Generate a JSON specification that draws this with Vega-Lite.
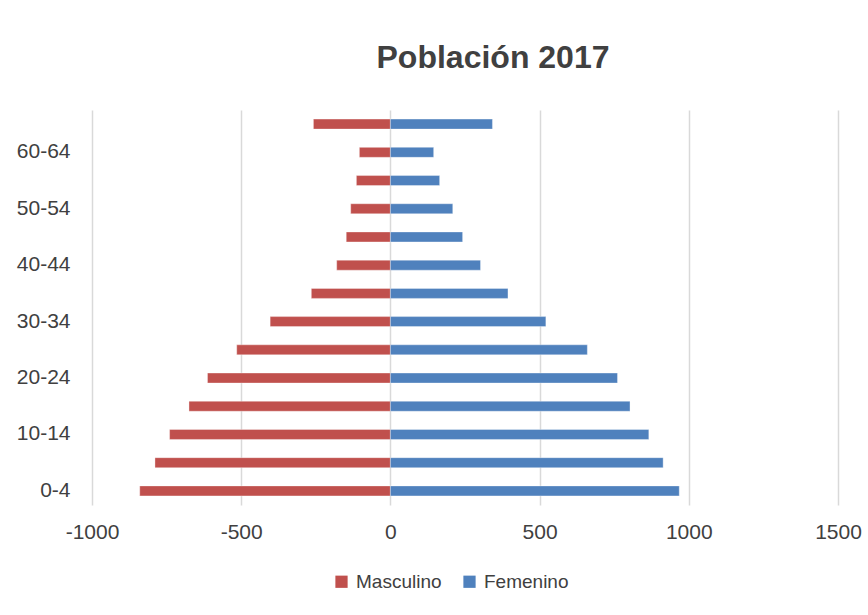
{
  "$schema": "https://vega.github.io/schema/vega-lite/v6.json",
  "width": 746,
  "height": 395,
  "autosize": "none",
  "padding": {"left": 92, "top": 110, "right": 30, "bottom": 110},
  "background": "white",
  "title": {
    "text": "Población 2017",
    "font": "Liberation Sans",
    "fontSize": 32,
    "fontWeight": "bold",
    "color": "#404040",
    "anchor": "middle",
    "dx": 28,
    "offset": 35
  },
  "data": {
    "values": [
      {"edad": "0-4", "sexo": "Masculino", "valor": -840},
      {"edad": "5-9", "sexo": "Masculino", "valor": -789},
      {"edad": "10-14", "sexo": "Masculino", "valor": -740},
      {"edad": "15-19", "sexo": "Masculino", "valor": -675},
      {"edad": "20-24", "sexo": "Masculino", "valor": -613},
      {"edad": "25-29", "sexo": "Masculino", "valor": -515},
      {"edad": "30-34", "sexo": "Masculino", "valor": -403},
      {"edad": "35-39", "sexo": "Masculino", "valor": -265},
      {"edad": "40-44", "sexo": "Masculino", "valor": -180},
      {"edad": "45-49", "sexo": "Masculino", "valor": -148},
      {"edad": "50-54", "sexo": "Masculino", "valor": -133},
      {"edad": "55-59", "sexo": "Masculino", "valor": -114},
      {"edad": "60-64", "sexo": "Masculino", "valor": -104},
      {"edad": "65+", "sexo": "Masculino", "valor": -258},
      {"edad": "0-4", "sexo": "Femenino", "valor": 968},
      {"edad": "5-9", "sexo": "Femenino", "valor": 914},
      {"edad": "10-14", "sexo": "Femenino", "valor": 866},
      {"edad": "15-19", "sexo": "Femenino", "valor": 803},
      {"edad": "20-24", "sexo": "Femenino", "valor": 761},
      {"edad": "25-29", "sexo": "Femenino", "valor": 660},
      {"edad": "30-34", "sexo": "Femenino", "valor": 521},
      {"edad": "35-39", "sexo": "Femenino", "valor": 394},
      {"edad": "40-44", "sexo": "Femenino", "valor": 302},
      {"edad": "45-49", "sexo": "Femenino", "valor": 242},
      {"edad": "50-54", "sexo": "Femenino", "valor": 209},
      {"edad": "55-59", "sexo": "Femenino", "valor": 165},
      {"edad": "60-64", "sexo": "Femenino", "valor": 145},
      {"edad": "65+", "sexo": "Femenino", "valor": 342}
    ]
  },
  "mark": {"type": "bar", "size": 10, "stroke": "white", "strokeOpacity": 0.35, "strokeWidth": 1},
  "encoding": {
    "y": {
      "field": "edad",
      "type": "nominal",
      "sort": ["65+", "60-64", "55-59", "50-54", "45-49", "40-44", "35-39", "30-34", "25-29", "20-24", "15-19", "10-14", "5-9", "0-4"],
      "scale": {"paddingInner": 0, "paddingOuter": 0},
      "axis": {
        "title": null,
        "values": ["0-4", "10-14", "20-24", "30-34", "40-44", "50-54", "60-64"],
        "domain": false,
        "ticks": false,
        "labelFont": "Liberation Sans",
        "labelFontSize": 21,
        "labelColor": "#404040",
        "labelPadding": 22
      }
    },
    "x": {
      "field": "valor",
      "type": "quantitative",
      "scale": {"domain": [-1000, 1500], "nice": false},
      "axis": {
        "title": null,
        "values": [-1000, -500, 0, 500, 1000, 1500],
        "labelExpr": "datum.value < 0 ? '-' + format(-datum.value, 'd') : format(datum.value, 'd')",
        "domain": false,
        "ticks": false,
        "grid": true,
        "gridColor": "#d9d9d9",
        "gridWidth": 1.5,
        "labelFont": "Liberation Sans",
        "labelFontSize": 21,
        "labelColor": "#404040",
        "labelPadding": 16,
        "labelFlush": false
      }
    },
    "color": {
      "field": "sexo",
      "type": "nominal",
      "scale": {"domain": ["Masculino", "Femenino"], "range": ["#C0504D", "#4F81BD"]},
      "legend": {
        "title": null,
        "orient": "none",
        "direction": "horizontal",
        "legendX": 240,
        "legendY": 462,
        "symbolType": "square",
        "symbolSize": 150,
        "symbolStrokeWidth": 0,
        "labelFont": "Liberation Sans",
        "labelFontSize": 19,
        "labelColor": "#404040",
        "columnPadding": 18,
        "labelOffset": 5
      }
    }
  },
  "config": {"view": {"stroke": null}}
}
